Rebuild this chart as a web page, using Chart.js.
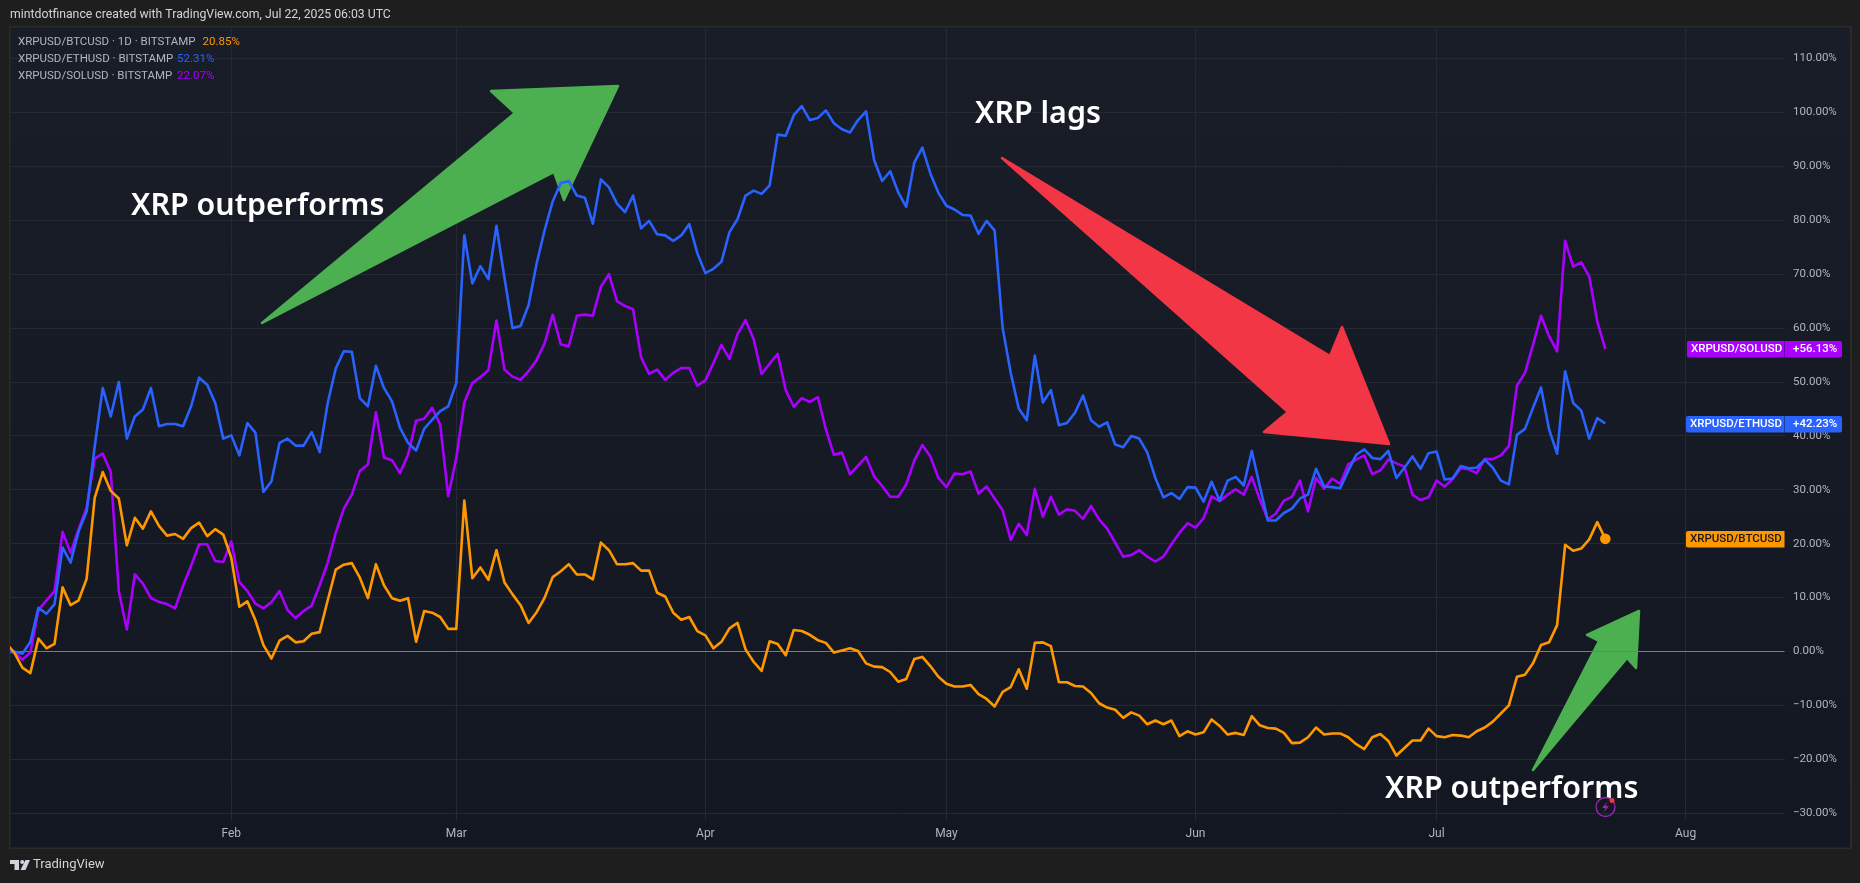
<!DOCTYPE html>
<html>
<head>
<meta charset="utf-8">
<style>
  html, body { margin: 0; padding: 0; background: #1e1e1e; overflow: hidden; }
  canvas { display: block; }
</style>
<script src="https://cdn.jsdelivr.net/npm/chart.js@4"></script>
</head>
<body>
<canvas id="chart" width="1860" height="883"></canvas>
<script>
// day of year (Jan 1 = 0) of the first value in every series, daily bars from there
var firstDay = 3;

var btcValues = [
  1.5,-0.2,-3,-4,2.4,0.6,1.4,11.9,8.6,9.5,13.5,28.5,33.3,29.8,28.4,19.7,24.8,22.8,26,23.3,21.5,21.8,20.9,22.9,23.9,21.4,22.7,21.7,
  17.4,8.3,9.3,5.8,1.2,-1.3,2,2.9,1.7,1.9,3.3,3.6,9.5,15.2,16.1,16.4,13.7,9.9,16.2,12.3,9.9,9.4,9.9,1.8,7.5,7.2,6.4,4.2,
  4.2,28,13.6,15.6,13.3,18.8,12.8,10.6,8.6,5.3,7.3,10,13.8,14.9,16.2,14.3,14.3,13.4,20.2,18.8,16.2,16.2,16.4,15,15,10.9,10.2,7.2,5.9,6.4,3.8,
  3,0.6,1.8,4.3,5.3,0.4,-1.9,-3.6,1.9,1.4,-0.7,4,3.8,3.1,2.1,1.6,-0.2,0.2,0.6,0.1,-2.2,-2.8,-2.9,-3.8,-5.6,-5.1,-1.4,-1,-2.7,-4.7,
  -6,-6.5,-6.5,-6.2,-7.9,-8.8,-10.2,-7.5,-6.6,-3.3,-6.9,1.6,1.7,1,-5.7,-5.7,-6.4,-6.5,-7.7,-9.6,-10.4,-10.8,-12.3,-11.3,-11.9,-13.5,-12.8,-13.5,-12.8,-15.7,-14.8,
  -15.4,-15,-12.6,-13.8,-15.4,-15.1,-15.5,-12,-13.7,-14.2,-14.3,-15.1,-17,-16.9,-15.9,-14.1,-15.4,-15.2,-15.2,-15.9,-17.2,-18.1,-15.9,-15.3,-16.6,-19.3,-17.9,-16.5,-16.5,-14.3,
  -15.7,-15.9,-15.5,-15.6,-15.9,-14.8,-14.1,-13,-11.5,-10,-4.7,-4.3,-2.2,1.2,1.7,4.9,19.8,18.7,19.1,20.8,24,20.9
];

var ethValues = [
  0,0,-0.4,1.8,8.1,7,8.8,19.3,16.5,22.3,26,38,48.9,43.6,50,39.5,43.6,44.9,48.9,41.8,42.2,42.2,41.8,45.5,50.8,49.5,46.1,39.5,
  40.1,36.4,42.4,40.6,29.6,31.6,38.7,39.5,38.2,38.2,40.7,37,46.1,52.5,55.7,55.6,47,45.5,53,48.9,46.4,41.5,38.7,37.3,41.3,43,44.6,45.5,
  49.8,77.2,68.3,71.5,69.1,79,69.3,60,60.4,64.3,72,78.2,83.5,86.9,87.3,84.6,84.2,79.4,87.6,86.1,83.1,81.5,84.6,78.5,79.9,77.4,77.2,76.2,77.2,79.3,73.9,
  70.2,71,72.3,77.8,80.2,84.6,85.5,84.9,86.5,95.9,95.7,99.5,101.2,98.6,99,100.4,98,96.9,96.3,98.6,100.2,91.2,87.3,89.1,85.2,82.5,90.7,93.5,88.7,85.1,
  82.7,82,81,80.9,77.5,79.9,78.1,60,51.7,45.1,42.9,54.9,46.2,48.5,42,42.4,44.3,47.5,42.9,41.7,42.5,38.4,37.9,40,39.5,36.9,32.2,28.6,29.4,28.3,30.5,
  30.4,27.8,31.5,28,31.7,32.4,30.8,37.2,30.7,24.3,24.3,25.7,26.5,28.4,29.1,33.9,30.6,30.5,30.3,33.5,36.5,37.5,35.9,35.7,37.2,32.2,34.1,36.2,33.9,36.8,
  37.1,31.9,32.1,34.4,34,34.1,35.6,34.1,31.7,31,40.2,41.3,45.2,49,41.2,36.7,52,46.1,44.7,39.5,43.3,42.3
];

var solValues = [
  0,-0.2,-1.5,-0.2,7.7,9.5,11.2,22.2,18.3,22.7,26.7,35.8,36.7,33.3,11.2,4.1,14.3,12.6,9.9,9.2,8.8,8,12.2,15.9,19.9,19.9,16.8,16.6,
  20.4,12.9,11.2,8.9,8,9.2,11.2,7.7,6.2,7.5,8.5,12.3,16.5,22,26.5,29.1,33.5,34.7,44.4,36,35.5,33.1,36.5,42.8,43.2,45.2,42.1,28.8,
  35.9,46.2,49.8,50.9,52.2,61.4,52.3,51,50.4,52,54.1,57.2,62.5,57,56.6,62.3,62.5,62.3,67.7,70,65,64.1,63.5,54.6,51.5,52.3,50.4,51.7,52.6,52.6,49.3,
  50.3,53.5,56.9,54.3,58.9,61.5,58,51.5,53.4,55.2,48.5,45.4,47,46.3,47.2,41.2,36.5,36.9,32.9,34.5,36.1,32.5,30.7,28.7,28.7,31,35.4,38.3,36.2,32.2,
  30.5,33,32.9,33.4,29.3,30.6,28.4,26.2,20.7,23.7,21.6,30.2,25,28.7,25.4,26.4,26.1,24.6,27,24.5,22.8,20.2,17.6,17.9,18.8,17.6,16.7,17.6,19.9,22,23.8,
  23,24.7,28.8,27.9,29.1,30.1,29.1,32.4,28.2,24.5,25.6,28,28.7,31.7,26,32.2,30.2,32.1,31.1,34.7,35.6,36.4,32.9,33.6,35.6,34.9,34.3,29.1,28.1,28.6,
  31.7,30.6,32,34,33.8,33.1,35.7,35.7,36.4,38.1,49.3,51.7,56.9,62.3,58.5,55.7,76.2,71.4,72.2,69.6,61.2,56.1
];

var monthLabels = ["Feb", "Mar", "Apr", "May", "Jun", "Jul", "Aug"];
var monthDays = [31, 59, 90, 120, 151, 181, 212];
var percentTicks = [-30, -20, -10, 0, 10, 20, 30, 40, 50, 60, 70, 80, 90, 100, 110];

var ORANGE = "#FF9800", BLUE = "#2962FF", PURPLE = "#AA00FF";
var UI_FONT = '"Roboto", sans-serif';
var TEXT_GREY = "#b2b5be";
var GRID = "#252933";

function toPoints(values) {
  return values.map(function (v, i) { return { x: firstDay + i, y: v }; });
}

function lineDataset(label, values, color, lastDot) {
  return {
    label: label,
    data: toPoints(values),
    borderColor: color,
    backgroundColor: color,
    borderWidth: 2.6,
    borderJoinStyle: "round",
    tension: 0,
    pointRadius: function (c) { return lastDot && c.dataIndex === values.length - 1 ? 4 : 0; },
    pointHoverRadius: 0
  };
}

function polygon(ctx, pts, color) {
  ctx.beginPath();
  pts.forEach(function (p, i) { if (i) ctx.lineTo(p[0], p[1]); else ctx.moveTo(p[0], p[1]); });
  ctx.closePath();
  ctx.fillStyle = color;
  ctx.strokeStyle = color;
  ctx.lineWidth = 2.5;
  ctx.lineJoin = "round";
  ctx.fill();
  ctx.stroke();
}

function text(ctx, str, x, y, font, color, align) {
  ctx.font = font;
  ctx.fillStyle = color;
  ctx.textAlign = align || "left";
  ctx.textBaseline = "middle";
  ctx.fillText(str, x, y);
}

function roundBox(ctx, x, y, w, h, color, radii) {
  ctx.beginPath();
  ctx.roundRect(x, y, w, h, radii);
  ctx.fillStyle = color;
  ctx.fill();
}

// window frame behind the chart
var framePlugin = {
  id: "frame",
  beforeDraw: function (chart) {
    var ctx = chart.ctx;
    ctx.save();
    ctx.fillStyle = "#1e1e1e";
    ctx.fillRect(0, 0, 1860, 883);
    ctx.fillStyle = "#2a2a2a";
    ctx.fillRect(9, 26, 1843, 823);
    var g = ctx.createLinearGradient(0, 27, 0, 848);
    g.addColorStop(0, "#191d28");
    g.addColorStop(1, "#131722");
    ctx.fillStyle = g;
    ctx.fillRect(10.5, 27.5, 1839.5, 820);
    ctx.restore();
  }
};

// arrows sit under the lines, the zero line sits over the arrows
var arrowPlugin = {
  id: "arrows",
  beforeDatasetsDraw: function (chart) {
    var ctx = chart.ctx;
    ctx.save();
    polygon(ctx, [[262, 323], [515, 113], [491, 91], [618, 86], [564, 200], [554, 172]], "#4CAF50");
    polygon(ctx, [[1002, 158], [1330, 356], [1342, 327], [1389, 444], [1264, 432], [1288, 412]], "#F23645");
    polygon(ctx, [[1533, 770], [1599, 641], [1587, 635], [1639, 611], [1636, 668], [1627, 658]], "#4CAF50");
    var y0 = chart.scales.y.getPixelForValue(0);
    ctx.strokeStyle = "#787b86";
    ctx.lineWidth = 1;
    ctx.beginPath();
    ctx.moveTo(chart.chartArea.left, y0);
    ctx.lineTo(chart.chartArea.right, y0);
    ctx.stroke();
    ctx.restore();
  }
};

// everything written on top: title, legend, notes, price labels, logo
var overlayPlugin = {
  id: "overlay",
  afterDraw: function (chart) {
    var ctx = chart.ctx;
    ctx.save();

    text(ctx, "mintdotfinance created with TradingView.com, Jul 22, 2025 06:03 UTC", 10, 15, "12.25px " + UI_FONT, "#d1d4dc");

    var legendFont = "11.5px " + UI_FONT;
    text(ctx, "XRPUSD/BTCUSD · 1D · BITSTAMP", 18, 42, legendFont, TEXT_GREY);
    text(ctx, "20.85%", 202.5, 42, legendFont, ORANGE);
    text(ctx, "XRPUSD/ETHUSD · BITSTAMP", 18, 59, legendFont, TEXT_GREY);
    text(ctx, "52.31%", 177, 59, legendFont, BLUE);
    text(ctx, "XRPUSD/SOLUSD · BITSTAMP", 18, 76, legendFont, TEXT_GREY);
    text(ctx, "22.07%", 177, 76, legendFont, PURPLE);

    var noteFont = '600 30.4px "Noto Sans", sans-serif';
    text(ctx, "XRP outperforms", 131, 206, noteFont, "#ffffff");
    text(ctx, "XRP lags", 975, 114, noteFont, "#ffffff");
    text(ctx, "XRP outperforms", 1385, 789, noteFont, "#ffffff");

    // last value labels on the price axis
    var boxFont = "500 11.5px " + UI_FONT;
    roundBox(ctx, 1687, 341, 97.5, 16.5, PURPLE, [2, 0, 0, 2]);
    roundBox(ctx, 1785, 341, 57, 16.5, PURPLE, [0, 2, 2, 0]);
    text(ctx, "XRPUSD/SOLUSD", 1691, 349.5, boxFont, "#ffffff");
    text(ctx, "+56.13%", 1793, 349.5, boxFont, "#ffffff");
    roundBox(ctx, 1686, 416, 98.5, 16.5, BLUE, [2, 0, 0, 2]);
    roundBox(ctx, 1785, 416, 57, 16.5, BLUE, [0, 2, 2, 0]);
    text(ctx, "XRPUSD/ETHUSD", 1690, 424.5, boxFont, "#ffffff");
    text(ctx, "+42.23%", 1793, 424.5, boxFont, "#ffffff");
    roundBox(ctx, 1686, 531, 98.5, 16.5, ORANGE, [2, 0, 0, 2]);
    text(ctx, "XRPUSD/BTCUSD", 1690, 539.5, boxFont, "#131722");

    // alert badge
    ctx.strokeStyle = "#9C27B0";
    ctx.lineWidth = 1.3;
    ctx.beginPath();
    ctx.arc(1605.5, 807, 9.5, 0, Math.PI * 2);
    ctx.stroke();
    ctx.beginPath();
    ctx.moveTo(1607.5, 801.5);
    ctx.lineTo(1602, 808);
    ctx.lineTo(1605.5, 808);
    ctx.lineTo(1603.5, 812.5);
    ctx.lineTo(1609, 806);
    ctx.lineTo(1605.5, 806);
    ctx.closePath();
    ctx.fillStyle = "#9C27B0";
    ctx.fill();
    ctx.beginPath();
    ctx.arc(1612, 800.5, 2.5, 0, Math.PI * 2);
    ctx.fillStyle = "#F23645";
    ctx.fill();

    // TradingView logo
    ctx.fillStyle = "#d1d4dc";
    ctx.beginPath();
    ctx.moveTo(10, 860);
    ctx.lineTo(19, 860);
    ctx.lineTo(19, 870);
    ctx.lineTo(14.5, 870);
    ctx.lineTo(14.5, 864);
    ctx.lineTo(10, 864);
    ctx.closePath();
    ctx.fill();
    ctx.beginPath();
    ctx.arc(22.2, 862, 2, 0, Math.PI * 2);
    ctx.fill();
    ctx.beginPath();
    ctx.moveTo(25.5, 860);
    ctx.lineTo(30, 860);
    ctx.lineTo(25.5, 870);
    ctx.lineTo(20.5, 870);
    ctx.closePath();
    ctx.fill();
    text(ctx, "TradingView", 33, 865, "13px " + UI_FONT, "#d1d4dc");

    ctx.restore();
  }
};

var ctx = document.getElementById("chart").getContext("2d");

var myLineChart = new Chart(ctx, {
  type: "line",
  data: {
    datasets: [
      lineDataset("XRPUSD/BTCUSD", btcValues, ORANGE, true),
      lineDataset("XRPUSD/ETHUSD", ethValues, BLUE, false),
      lineDataset("XRPUSD/SOLUSD", solValues, PURPLE, false)
    ]
  },
  plugins: [framePlugin, arrowPlugin, overlayPlugin],
  options: {
    responsive: false,
    animation: false,
    devicePixelRatio: 1,
    layout: { padding: { left: 10, top: 28, right: 9, bottom: 35 } },
    plugins: { legend: { display: false }, tooltip: { enabled: false }, title: { display: false } },
    scales: {
      x: {
        type: "linear",
        min: 3.46,
        max: 224.3,
        border: { display: false },
        grid: { color: GRID, lineWidth: 1, drawTicks: false },
        afterBuildTicks: function (scale) {
          scale.ticks = monthDays.map(function (d) { return { value: d }; });
        },
        afterFit: function (scale) { scale.height = 28; },
        ticks: {
          autoSkip: false,
          maxRotation: 0,
          padding: 7,
          color: TEXT_GREY,
          font: { family: "Roboto", size: 12 },
          callback: function (value) { return monthLabels[monthDays.indexOf(value)]; }
        }
      },
      y: {
        position: "right",
        min: -31.26,
        max: 115.68,
        border: { display: false },
        grid: { color: GRID, lineWidth: 1, drawTicks: false },
        afterBuildTicks: function (scale) {
          scale.ticks = percentTicks.map(function (v) { return { value: v }; });
        },
        afterFit: function (scale) { scale.width = 66.5; },
        ticks: {
          autoSkip: false,
          padding: 8.5,
          color: TEXT_GREY,
          font: { family: "Roboto", size: 11.5 },
          callback: function (value) {
            return (value < 0 ? "\u2212" : "") + Math.abs(value).toFixed(2) + "%";
          }
        }
      }
    }
  }
});
</script>
</body>
</html>
